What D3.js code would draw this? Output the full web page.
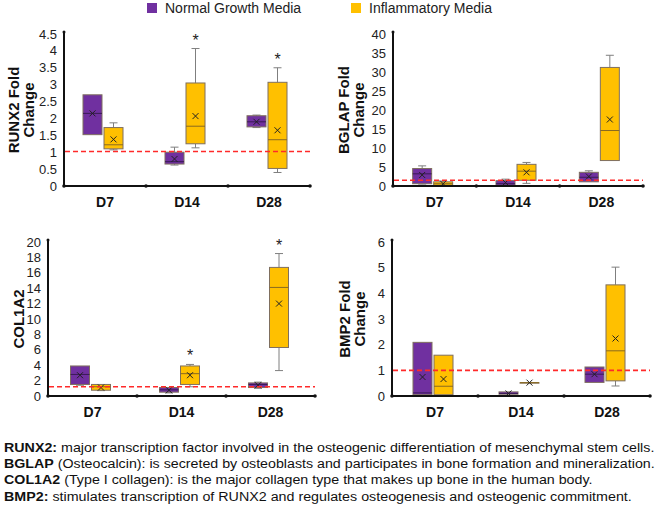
<!DOCTYPE html>
<html>
<head>
<meta charset="utf-8">
<script src="https://cdn.jsdelivr.net/npm/d3@7"></script>
<style>
  body { margin: 0; background: #fff; }
  svg { font-family: "Liberation Sans", Arial, sans-serif; }
</style>
</head>
<body>
<div id="chart"></div>
<script>
// categories and groups
var days = ["D7", "D14", "D28"];
var groups = ["Normal Growth Media", "Inflammatory Media"];
var groupColors = ["#7030A0", "#FFC000"];

// box stats per day: [min, q1, median, q3, max, mean]
var runx2Normal = [[1.52, 1.52, 2.15, 2.7, 2.7, 2.15], [0.62, 0.65, 0.72, 1.0, 1.15, 0.8], [1.73, 1.75, 1.9, 2.08, 2.1, 1.9]];
var runx2Inflam = [[1.07, 1.1, 1.22, 1.73, 1.87, 1.38], [1.13, 1.25, 1.77, 3.05, 4.07, 2.07], [0.4, 0.52, 1.37, 3.07, 3.5, 1.65]];
var bglapNormal = [[0.5, 0.6, 3.2, 4.6, 5.3, 2.9], [0.2, 0.2, 0.6, 1.4, 1.8, 0.9], [1.1, 1.1, 2.3, 3.6, 4.0, 2.5]];
var bglapInflam = [[0.2, 0.2, 0.6, 1.1, 1.3, 0.6], [0.7, 1.5, 3.9, 5.7, 6.2, 3.6], [6.7, 6.7, 14.6, 31.2, 34.4, 17.5]];
var col1a2Normal = [[1.4, 1.5, 2.8, 3.9, 3.9, 2.7], [0.4, 0.5, 0.8, 1.1, 1.1, 0.75], [1.0, 1.1, 1.5, 1.7, 1.8, 1.4]];
var col1a2Inflam = [[0.7, 0.75, 1.2, 1.5, 1.5, 1.1], [1.2, 1.5, 2.9, 3.9, 4.1, 2.7], [3.3, 6.3, 14.1, 16.7, 18.5, 12.0]];
var bmp2Normal = [[0.05, 0.05, 0.12, 2.09, 2.09, 0.74], [0.07, 0.07, 0.1, 0.16, 0.16, 0.1], [0.53, 0.53, 0.85, 1.13, 1.13, 0.85]];
var bmp2Inflam = [[0.05, 0.05, 0.38, 1.59, 1.59, 0.66], [0.52, 0.52, 0.52, 0.52, 0.52, 0.52], [0.39, 0.59, 1.76, 4.33, 5.02, 2.24]];

// significance stars on inflammatory group
var runx2Stars = [0, 1, 1];
var bglapStars = [0, 0, 0];
var col1a2Stars = [0, 1, 1];
var bmp2Stars = [0, 0, 0];

// y ticks
var runx2Ticks = [0, 0.5, 1, 1.5, 2, 2.5, 3, 3.5, 4, 4.5];
var bglapTicks = [0, 5, 10, 15, 20, 25, 30, 35, 40];
var col1a2Ticks = [0, 2, 4, 6, 8, 10, 12, 14, 16, 18, 20];
var bmp2Ticks = [0, 1, 2, 3, 4, 5, 6];

// reference line (fold change = 1)
var refLines = [1.02, 1.5, 1.2, 1.0];

var captionBold = ["RUNX2:", "BGLAP", "COL1A2", "BMP2:"];
var captionText = [
  " major transcription factor involved in the osteogenic differentiation of mesenchymal stem cells.",
  " (Osteocalcin): is secreted by osteoblasts and participates in bone formation and mineralization.",
  " (Type I collagen): is the major collagen type that makes up bone in the human body.",
  " stimulates transcription of RUNX2 and regulates osteogenesis and osteogenic commitment."
];

var W = 660, H = 508;
var svg = d3.select("#chart").append("svg").attr("width", W).attr("height", H);

var panels = [
  {label: ["RUNX2 Fold", "Change"], normal: runx2Normal, inflam: runx2Inflam, stars: runx2Stars, ticks: runx2Ticks,
   x0: 64, x1: 310, y0: 186, y1: 34, labelX: 14, ref: refLines[0]},
  {label: ["BGLAP Fold", "Change"], normal: bglapNormal, inflam: bglapInflam, stars: bglapStars, ticks: bglapTicks,
   x0: 393, x1: 643, y0: 186, y1: 34, labelX: 344, ref: refLines[1]},
  {label: ["COL1A2"], normal: col1a2Normal, inflam: col1a2Inflam, stars: col1a2Stars, ticks: col1a2Ticks,
   x0: 48, x1: 315, y0: 396, y1: 242, labelX: 19, ref: refLines[2]},
  {label: ["BMP2 Fold", "Change"], normal: bmp2Normal, inflam: bmp2Inflam, stars: bmp2Stars, ticks: bmp2Ticks,
   x0: 392, x1: 650, y0: 396, y1: 242, labelX: 345, ref: refLines[3]}
];

var BOXW = 19;

panels.forEach(function(p) {
  var g = svg.append("g");
  var x = d3.scaleBand().domain(days).range([p.x0, p.x1]);
  var y = d3.scaleLinear().domain([0, d3.max(p.ticks)]).range([p.y0, p.y1]);

  // y tick labels
  g.selectAll(".ytick").data(p.ticks).enter().append("text")
    .attr("x", p.x0 - 7).attr("y", function(d) { return y(d); })
    .attr("dy", "0.35em").attr("text-anchor", "end")
    .attr("font-size", 13).attr("fill", "#222")
    .text(function(d) { return d; });

  // y label
  var cy = (p.y0 + p.y1) / 2;
  p.label.forEach(function(t, i) {
    g.append("text")
      .attr("transform", "translate(" + (p.labelX + i * 15) + "," + cy + ") rotate(-90)")
      .attr("text-anchor", "middle").attr("dy", "0.35em")
      .attr("font-size", 15).attr("font-weight", "bold").attr("fill", "#111")
      .text(t);
  });

  // boxes
  var series = [p.normal, p.inflam];
  series.forEach(function(data, gi) {
    data.forEach(function(s, di) {
      var cx = x(days[di]) + x.bandwidth() / 2 - 2 + (gi === 0 ? -10.5 : 10.5);
      var bx = cx - BOXW / 2;
      var bg = g.append("g");
      // whiskers
      if (s[4] > s[3]) {
        bg.append("line").attr("x1", cx).attr("x2", cx).attr("y1", y(s[3])).attr("y2", y(s[4]))
          .attr("stroke", "#7f7f7f").attr("stroke-width", 1);
        bg.append("line").attr("x1", cx - 4).attr("x2", cx + 4).attr("y1", y(s[4])).attr("y2", y(s[4]))
          .attr("stroke", "#7f7f7f").attr("stroke-width", 1);
      }
      if (s[0] < s[1]) {
        bg.append("line").attr("x1", cx).attr("x2", cx).attr("y1", y(s[1])).attr("y2", y(s[0]))
          .attr("stroke", "#7f7f7f").attr("stroke-width", 1);
        bg.append("line").attr("x1", cx - 4).attr("x2", cx + 4).attr("y1", y(s[0])).attr("y2", y(s[0]))
          .attr("stroke", "#7f7f7f").attr("stroke-width", 1);
      }
      bg.append("rect").attr("x", bx).attr("width", BOXW)
        .attr("y", y(s[3])).attr("height", Math.max(0.5, y(s[1]) - y(s[3])))
        .attr("fill", groupColors[gi]).attr("stroke", "#7f6f5f").attr("stroke-width", 1);
      bg.append("line").attr("x1", bx).attr("x2", bx + BOXW).attr("y1", y(s[2])).attr("y2", y(s[2]))
        .attr("stroke", gi === 0 ? "#3a1a55" : "#8a6a20").attr("stroke-width", 1);
      // mean marker
      var m = y(s[5]);
      bg.append("path").attr("d", "M" + (cx - 3) + "," + (m - 3) + "L" + (cx + 3) + "," + (m + 3) +
          "M" + (cx - 3) + "," + (m + 3) + "L" + (cx + 3) + "," + (m - 3))
        .attr("stroke", "#222").attr("stroke-width", 1);
      if (gi === 1 && p.stars[di]) {
        bg.append("text").attr("x", cx).attr("y", y(s[4]) - 3).attr("text-anchor", "middle")
          .attr("font-size", 16).attr("fill", "#222").text("*");
      }
    });
  });

  // axes
  g.append("line").attr("x1", p.x0).attr("x2", p.x0).attr("y1", p.y1 - 2).attr("y2", p.y0)
    .attr("stroke", "#111").attr("stroke-width", 2);
  g.append("line").attr("x1", p.x0).attr("x2", p.x1).attr("y1", p.y0).attr("y2", p.y0)
    .attr("stroke", "#111").attr("stroke-width", 2);
  var seps = days.map(function(d) { return x(d); }).concat([p.x1]);
  g.selectAll(".sep").data(seps).enter().append("circle")
    .attr("cx", function(d) { return d; }).attr("cy", p.y0).attr("r", 1.8).attr("fill", "#111");
  g.append("circle").attr("cx", p.x0).attr("cy", p.y1 - 2).attr("r", 1.5).attr("fill", "#111");

  // reference line
  g.append("line").attr("x1", p.x0 + 1).attr("x2", p.x1).attr("y1", y(p.ref)).attr("y2", y(p.ref))
    .attr("stroke", "#ff2a2a").attr("stroke-width", 1.6).attr("stroke-dasharray", "5,3");

  // x labels
  g.selectAll(".xl").data(days).enter().append("text")
    .attr("x", function(d) { return x(d) + x.bandwidth() / 2; })
    .attr("y", p.y0 + 21)
    .attr("text-anchor", "middle").attr("font-size", 14).attr("font-weight", "bold").attr("fill", "#111")
    .text(function(d) { return d; });
});

// legend
var legendX = [147, 351];
groups.forEach(function(gname, i) {
  svg.append("rect").attr("x", legendX[i]).attr("y", 3).attr("width", 10).attr("height", 10)
    .attr("fill", groupColors[i]);
  svg.append("text").attr("x", legendX[i] + 18).attr("y", 8).attr("dy", "0.35em")
    .attr("font-size", 14).attr("fill", "#222").text(gname);
});

// caption: the text in the picture is stretched sideways, so fit each line to its right edge
var captionRight = [655, 655, 593, 632];
captionBold.forEach(function(b, i) {
  var t = svg.append("text")
    .attr("font-size", 12).attr("fill", "#111");
  t.append("tspan").attr("font-weight", "bold").text(b);
  t.append("tspan").text(captionText[i]);
  var w = t.node().getBBox().width;
  var sx = Math.min(1.25, (captionRight[i] - 4) / w);
  t.attr("transform", "translate(4," + (452 + i * 16.2) + ") scale(" + sx + ",1)");
});
</script>
</body>
</html>
